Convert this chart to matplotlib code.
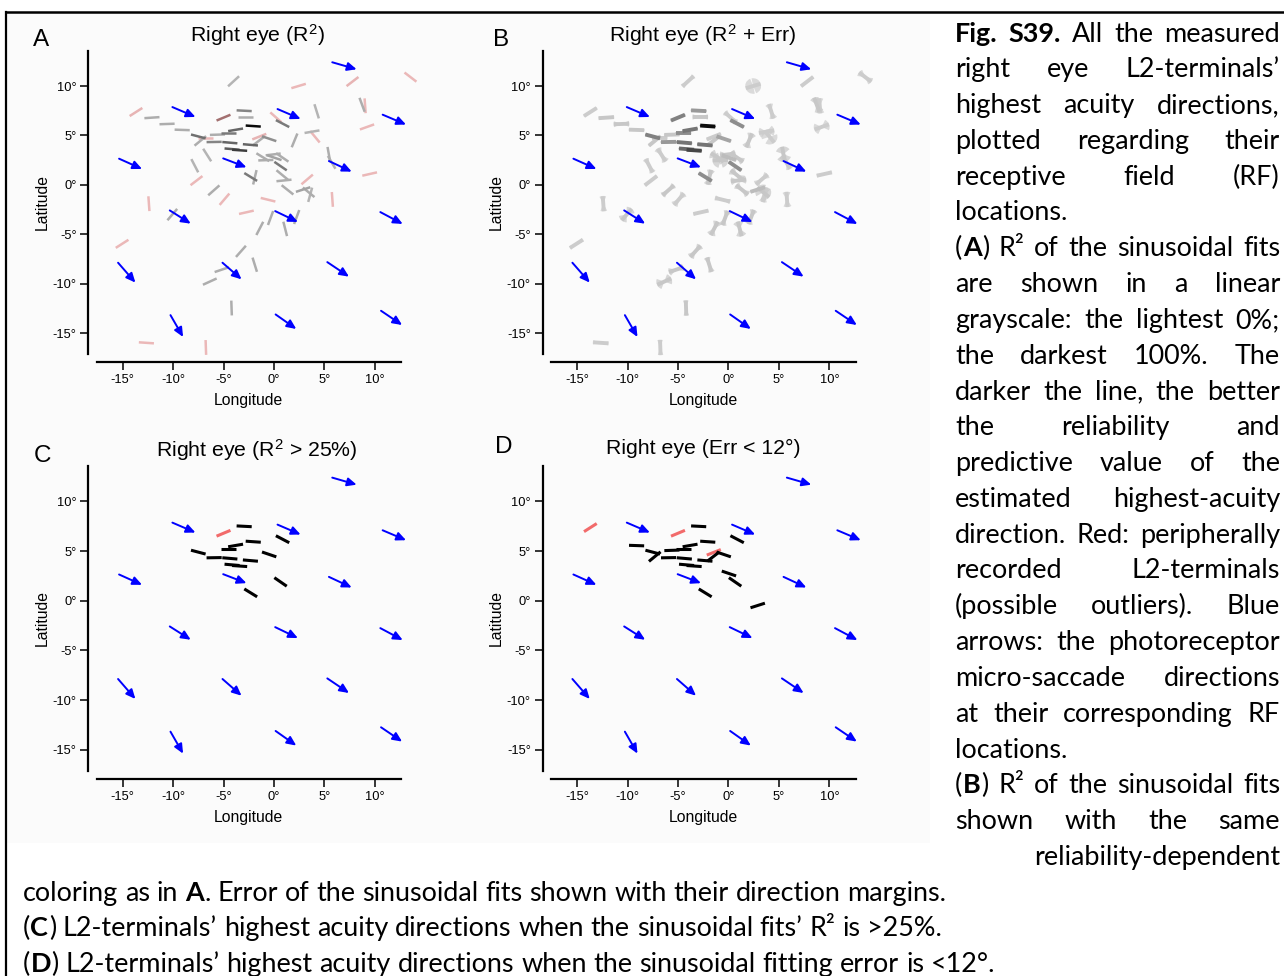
import numpy as np
import matplotlib
matplotlib.use("Agg")
import matplotlib.pyplot as plt
from matplotlib.patches import Wedge, Rectangle, FancyArrowPatch
from matplotlib.lines import Line2D
from matplotlib.transforms import IdentityTransform

plt.rcParams["font.family"] = "Liberation Sans"
plt.rcParams["mathtext.fontset"] = "custom"
plt.rcParams["mathtext.rm"] = "Liberation Sans"
plt.rcParams["mathtext.default"] = "regular"

W, H = 1284, 976

# photoreceptor micro-saccade arrows (tail position and displacement, degrees)
arrow_lon = [5.79, -10.07, 0.36, 10.79, -15.36, -5.03, 5.46, -10.33,
             0.13, 10.56, -15.46, -5.10, 5.30, -10.26, 0.17, 10.63]
arrow_lat = [12.40, 7.87, 7.67, 7.10, 2.65, 2.68, 2.41, -2.58,
             -2.65, -2.75, -7.87, -7.87, -7.81, -13.17, -13.10, -12.73]
arrow_dlon = [2.42, 2.29, 2.29, 2.32, 2.28, 2.31, 2.26, 2.08,
              2.25, 2.22, 1.72, 1.89, 2.15, 1.25, 2.05, 2.09]
arrow_dlat = [-0.71, -1.00, -1.00, -1.00, -1.04, -0.90, -1.07, -1.34,
              -1.10, -1.20, -2.01, -1.68, -1.47, -2.21, -1.47, -1.44]

# L2-terminal highest-acuity directions
seg_lon = [-4.00, 2.45, 7.80, 13.55, -13.68, -12.10, -10.60, -9.10, -5.00, -2.95,
           -2.80, -2.05, 0.20, 0.86, 4.24, 8.75, 9.05, 9.24, 4.07, 3.78,
           2.05, -1.45, -1.50, -0.47, -3.80, -4.47, -5.60, -7.50, -6.80, -7.30,
           -5.93, -4.37, -2.33, -4.15, -3.40, -6.62, -7.85, -1.10, -0.80, -0.07,
           0.05, 0.83, 0.66, -2.30, -1.89, 0.83, 1.00, 1.35, 5.45, 5.73,
           9.50, 3.30, 2.90, 3.45, 3.60, 5.80, -12.40, -7.68, -5.96, -4.90,
           -0.58, -2.73, -10.08, -1.40, -0.33, 1.12, 2.26, -15.06, -3.27, -1.90,
           -5.17, -6.36, -4.20, -12.65, -6.75]
seg_lat = [10.48, 10.00, 10.45, 10.90, 7.37, 6.80, 6.16, 5.56, 6.80, 7.50,
           6.87, 5.95, 6.83, 6.20, 7.44, 8.10, 8.00, 5.86, 4.87, 5.38,
           4.50, 4.88, 4.45, 4.67, 5.57, 5.22, 5.08, 4.90, 4.79, 4.45,
           4.34, 4.27, 4.05, 3.62, 3.50, 3.02, 1.94, 2.80, 2.50, 3.08,
           2.75, 2.78, 1.90, 0.80, 0.77, 1.00, 0.45, -0.50, 3.10, 2.28,
           1.10, 0.55, -0.47, -0.75, -1.00, -1.47, -1.90, 0.43, -0.55, -1.45,
           -1.50, -2.77, -3.00, -4.40, -3.35, -4.45, -3.25, -5.96, -6.72, -8.07,
           -8.57, -9.78, -12.45, -15.97, -16.44]
seg_ang = [43, 17, 38, -38, 33, 4, 2, -2, 23, -3,
           0, -4, -42, -28, -73, -70, -86, 20, -51, 10,
           68, 22, 38, -19, 10, 0, 2, -15, 0, 40,
           1, -5, -5, -5, -4, -58, -63, -32, 2, 7,
           -19, -35, -35, -32, 77, -40, 6, -39, -80, -60,
           13, 41, 18, -40, 75, -86, -86, 38, 42, 50,
           -14, 13, 50, 63, 70, -76, 70, 33, 49, -73,
           19, 25, -88, -4, -88]
seg_r2 = [.12, .10, .12, .10, .12, .15, .15, .15, .45, .35,
          .15, .95, .10, .40, .12, .15, .10, .10, .10, .12,
          .15, .12, .15, .30, .50, .40, .15, .45, .10, .15,
          .35, .50, .50, .55, .70, .12, .12, .15, .15, .15,
          .20, .15, .40, .40, .15, .15, .15, .15, .15, .12,
          .10, .10, .20, .15, .12, .10, .10, .10, .15, .10,
          .10, .10, .15, .15, .15, .15, .15, .10, .15, .15,
          .15, .15, .15, .10, .10]
seg_err = [20, 85, 14, 30, 8, 14, 22, 9, 7, 8,
           20, 5, 25, 9, 30, 35, 30, 45, 70, 40,
           35, 9, 10, 10, 7, 8, 10, 8, 20, 10,
           8, 7, 8, 6, 6, 30, 25, 40, 75, 30,
           10, 30, 10, 10, 30, 35, 30, 30, 60, 30,
           15, 30, 10, 70, 30, 30, 25, 15, 25, 30,
           20, 14, 40, 35, 30, 40, 30, 15, 30, 25,
           30, 45, 20, 15, 20]
seg_peri = [0, 1, 1, 1, 1, 0, 0, 0, 1, 0,
            0, 0, 1, 0, 0, 0, 1, 1, 1, 0,
            0, 1, 0, 0, 0, 0, 0, 0, 1, 0,
            0, 0, 0, 0, 0, 0, 0, 0, 0, 0,
            0, 0, 0, 0, 0, 0, 0, 0, 0, 0,
            1, 1, 0, 0, 0, 1, 1, 1, 0, 1,
            1, 1, 0, 0, 0, 0, 0, 1, 0, 0,
            0, 0, 0, 1, 1]
SEG_LEN = 1.5

TICKS = [-15, -10, -5, 0, 5, 10]
XLIM = (-17.58, 12.61)
YLIM = (-17.1, 13.57)

fig = plt.figure(figsize=(W / 100, H / 100), dpi=100)
PIX = IdentityTransform()


def ftext(x, y, s, **kw):
    return fig.text(x, H - y, s, transform=PIX, **kw)


# frame and background of the figure page
fig.add_artist(Rectangle((6, H - 843), 924, 830, transform=PIX,
                         facecolor="#fbfbfb", edgecolor="none", zorder=-5))
fig.add_artist(Line2D([6, W], [H - 12, H - 12], transform=PIX, color="black", lw=1.8))
fig.add_artist(Line2D([6, 6], [H - 12, 0], transform=PIX, color="black", lw=1.6))

lon = np.array(seg_lon)
lat = np.array(seg_lat)
theta = np.deg2rad(seg_ang)
hx = SEG_LEN / 2 * np.cos(theta)
hy = SEG_LEN / 2 * np.sin(theta)
r2 = np.array(seg_r2)
err = np.array(seg_err)
peri = np.array(seg_peri, dtype=bool)
order = np.argsort(r2)


def setup_axes(left, top, right, bottom):
    ax = fig.add_axes([left / W, 1 - bottom / H, (right - left) / W, (bottom - top) / H])
    ax.set_xlim(XLIM)
    ax.set_ylim(YLIM)
    ax.patch.set_visible(False)
    ax.spines[["top", "right"]].set_visible(False)
    for side in ["left", "bottom"]:
        ax.spines[side].set_position(("outward", 6))
        ax.spines[side].set_linewidth(1.6)
    ax.set_xticks(TICKS, [f"{t}°" for t in TICKS])
    ax.set_yticks(TICKS, [f"{t}°" for t in TICKS])
    ax.tick_params(length=5.5, width=1.1, pad=3, labelsize=9.3)
    ax.text(0.5, -0.154, "Longitude", transform=ax.transAxes, ha="center", va="center",
            fontsize=11.3)
    ax.text(-0.18, 0.5, "Latitude", transform=ax.transAxes, ha="center", va="center",
            rotation=90, fontsize=11.3)
    for x, y, dx, dy in zip(arrow_lon, arrow_lat, arrow_dlon, arrow_dlat):
        ax.add_patch(FancyArrowPatch((x, y), (x + dx, y + dy),
                                     arrowstyle="-|>,head_length=0.55,head_width=0.25",
                                     mutation_scale=10, color="#0000ff", lw=1.4,
                                     shrinkA=0, shrinkB=0, clip_on=False, zorder=5))
    return ax


def draw_seg(ax, i, color, lw):
    ax.plot([lon[i] - hx[i], lon[i] + hx[i]], [lat[i] - hy[i], lat[i] + hy[i]],
            color=color, lw=lw, solid_capstyle="butt", clip_on=False, zorder=2)


# A: R2 in grayscale
axA = setup_axes(96.7, 50.7, 401, 354)
for i in order:
    g = 0.8 * (1 - r2[i])
    col = (min(1, g + 0.2), g, g) if peri[i] else (g, g, g)
    draw_seg(axA, i, col, 1.8)

# B: R2 + fitting error margins
axB = setup_axes(551, 50.7, 855.7, 354)
for i in order:
    g = min(0.8, 0.92 * (1 - r2[i]))
    rad = SEG_LEN / 2 * 1.05
    for base in (seg_ang[i], seg_ang[i] + 180):
        axB.add_patch(Wedge((lon[i], lat[i]), rad, base - err[i], base + err[i],
                            facecolor=(g, g, g), alpha=0.7, edgecolor="none",
                            clip_on=False, zorder=1))
    draw_seg(axB, i, (g, g, g), 2.8)

# C: R2 > 25%
axC = setup_axes(96.7, 466, 401, 770.7)
for i in np.where(r2 > 0.25)[0]:
    draw_seg(axC, i, "#f26b6b" if peri[i] else "black", 2.2)

# D: Err < 12 deg
axD = setup_axes(551, 466, 855.7, 770.7)
for i in np.where(err < 12)[0]:
    draw_seg(axD, i, "#f26b6b" if peri[i] else "black", 2.2)

# panel titles and letters
ftext(257, 41.5, "Right eye (R$^2$)", ha="center", va="baseline", fontsize=15.3)
ftext(703, 41.5, "Right eye (R$^2$ + Err)", ha="center", va="baseline", fontsize=15.3)
ftext(257, 457, "Right eye (R$^2$ > 25%)", ha="center", va="baseline", fontsize=15.3)
ftext(703, 454, "Right eye (Err < 12°)", ha="center", va="baseline", fontsize=15.3)
for letter, x, y in [("A", 32.7, 46), ("B", 493.3, 46), ("C", 33.3, 461.7), ("D", 495, 452.7)]:
    ftext(x, y, letter, ha="left", va="baseline", fontsize=17.5)

# caption text
caption = [
    ("j", "*Fig.* *S39.* All the measured"),
    ("j", "right eye L2-terminals’"),
    ("j", "highest acuity directions,"),
    ("j", "plotted regarding their"),
    ("j", "receptive field (RF)"),
    ("l", "locations."),
    ("j", "(*A*) R² of the sinusoidal fits"),
    ("j", "are shown in a linear"),
    ("j", "grayscale: the lightest 0%;"),
    ("j", "the darkest 100%. The"),
    ("j", "darker the line, the better"),
    ("j", "the reliability and"),
    ("j", "predictive value of the"),
    ("j", "estimated highest-acuity"),
    ("j", "direction. Red: peripherally"),
    ("j", "recorded L2-terminals"),
    ("j", "(possible outliers). Blue"),
    ("j", "arrows: the photoreceptor"),
    ("j", "micro-saccade directions"),
    ("j", "at their corresponding RF"),
    ("l", "locations."),
    ("j", "(*B*) R² of the sinusoidal fits"),
    ("j", "shown with the same"),
    ("r", "reliability-dependent"),
    ("L", "coloring as in *A*. Error of the sinusoidal fits shown with their direction margins."),
    ("L", "(*C*) L2-terminals’ highest acuity directions when the sinusoidal fits’ R² is >25%."),
    ("L", "(*D*) L2-terminals’ highest acuity directions when the sinusoidal fitting error is <12°."),
]
COL_L, COL_R = 955, 1280
renderer = fig.canvas.get_renderer()


def parse_words(line):
    words = []
    for w in line.split(" "):
        parts = w.split("*")
        words.append([(p, k % 2 == 1) for k, p in enumerate(parts) if p])
    return words


def run_width(text, bold, fs):
    t = fig.text(0, 0, text, fontsize=fs, family="Lato",
                 weight="bold" if bold else "normal", transform=PIX)
    w = t.get_window_extent(renderer).width
    t.remove()
    return w


def word_width(word, fs):
    return sum(run_width(t, b, fs) for t, b in word) + 0.5 * (len(word) - 1)


def line_natural(s, fs, space):
    ws = parse_words(s)
    return sum(word_width(w, fs) for w in ws) + space * (len(ws) - 1)


def space_width(fs):
    return run_width("n n", False, fs) - 2 * run_width("n", False, fs)


# size the caption font so the bottom lines span like the reference
fs = 16.0
fs *= 932 / line_natural(caption[24][1], fs, space_width(fs))
space = space_width(fs)
natural = max(line_natural(s, fs, space) for m, s in caption if m == "j")
if natural > COL_R - COL_L:
    fs *= (COL_R - COL_L) / natural * 0.998
    space = space_width(fs)

for k, (mode, s) in enumerate(caption):
    y = 41.5 + 35.8 * k
    words = parse_words(s)
    widths = [word_width(w, fs) for w in words]
    if mode == "L":
        x, gap = 22.7, space
    elif mode == "l":
        x, gap = COL_L, space
    elif mode == "r":
        x, gap = COL_R - sum(widths) - space * (len(words) - 1), space
    else:
        x = COL_L
        gap = (COL_R - COL_L - sum(widths)) / max(1, len(words) - 1)
    for word, ww in zip(words, widths):
        xr = x
        for t, b in word:
            ftext(xr, y, t, ha="left", va="baseline", fontsize=fs, family="Lato",
                  weight="bold" if b else "normal")
            xr += run_width(t, b, fs) + 0.5
        x += ww + gap

fig.savefig("out.png", dpi=100)
